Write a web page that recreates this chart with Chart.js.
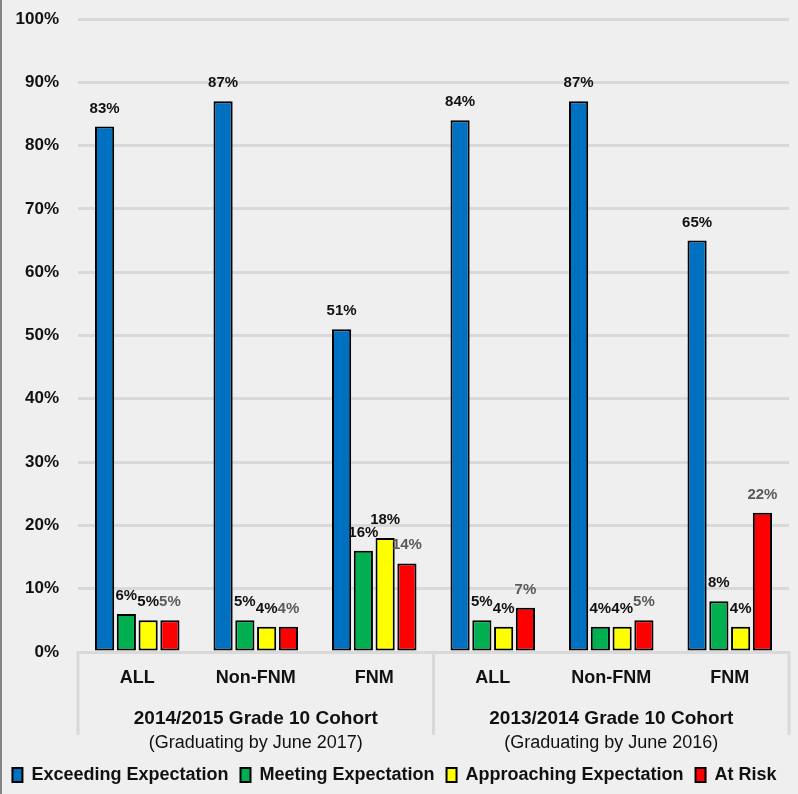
<!DOCTYPE html>
<html>
<head>
<meta charset="utf-8">
<script src="https://cdn.jsdelivr.net/npm/chart.js@4/dist/chart.umd.min.js"></script>
<style>
  html, body { margin: 0; padding: 0; background: #efefef; }
  #wrap { width: 798px; height: 794px; }
</style>
</head>
<body>
<div id="wrap"><canvas id="c" width="798" height="794"></canvas></div>
<script>
// Sub-groups within each cohort
const categories = ['ALL', 'Non-FNM', 'FNM', 'ALL', 'Non-FNM', 'FNM'];

// Cohort headings shown under the sub-group labels (3 sub-groups each)
const cohortTitles = ['2014/2015 Grade 10 Cohort', '2013/2014 Grade 10 Cohort'];
const cohortNotes = ['(Graduating by June 2017)', '(Graduating by June 2016)'];

// Percent of students in each outcome band
const exceeding   = [83, 87, 51, 84, 87, 65];
const meeting     = [6, 5, 16, 5, 4, 8];
const approaching = [5, 4, 18, 4, 4, 4];
const atRisk      = [5, 4, 14, 7, 5, 22];

const seriesNames = ['Exceeding Expectation', 'Meeting Expectation', 'Approaching Expectation', 'At Risk'];

// Percentage axis
const yMin = 0, yMax = 100, yStep = 10;

const FONT = "'Liberation Sans', Arial, sans-serif";

const bgPlugin = {
  id: 'pageBackground',
  beforeDraw(chart) {
    const ctx = chart.ctx;
    ctx.save();
    ctx.fillStyle = '#efefef';
    ctx.fillRect(0, 0, chart.width, chart.height);
    ctx.fillStyle = '#858585';
    ctx.fillRect(0, 0, 2, chart.height);
    ctx.restore();
  }
};

// Percent labels above every bar
const valueLabels = {
  id: 'valueLabels',
  afterDatasetsDraw(chart) {
    const ctx = chart.ctx;
    ctx.save();
    ctx.font = 'bold 15px ' + FONT;
    ctx.textAlign = 'center';
    ctx.textBaseline = 'alphabetic';
    chart.data.datasets.forEach((ds, i) => {
      const meta = chart.getDatasetMeta(i);
      ctx.fillStyle = i === 3 ? '#5a5a5a' : '#111';
      meta.data.forEach((bar, j) => {
        ctx.fillText(ds.data[j] + '%', bar.x, bar.y - 14);
      });
    });
    ctx.restore();
  }
};

// Second level of the category axis: cohort dividers and headings
const cohortAxis = {
  id: 'cohortAxis',
  afterDraw(chart) {
    const ctx = chart.ctx;
    const xs = chart.scales.x;
    const area = chart.chartArea;
    const mid = (xs.getPixelForValue(2) + xs.getPixelForValue(3)) / 2;
    const edges = [area.left, mid, area.right];
    ctx.save();
    ctx.strokeStyle = '#d9d9d9';
    ctx.lineWidth = 3;
    edges.forEach(x => {
      ctx.beginPath();
      ctx.moveTo(x, area.bottom);
      ctx.lineTo(x, 735);
      ctx.stroke();
    });
    ctx.textAlign = 'center';
    ctx.textBaseline = 'middle';
    ctx.fillStyle = '#111';
    for (let g = 0; g < cohortTitles.length; g++) {
      const cx = (edges[g] + edges[g + 1]) / 2;
      ctx.font = 'bold 19px ' + FONT;
      ctx.fillText(cohortTitles[g], cx, 719);
      ctx.font = '18px ' + FONT;
      ctx.fillText(cohortNotes[g], cx, 743);
    }
    ctx.restore();
  }
};

const barStyle = { borderColor: '#000', borderWidth: 2, borderSkipped: false, categoryPercentage: 0.735, barPercentage: 0.88 };

new Chart(document.getElementById('c'), {
  type: 'bar',
  data: {
    labels: categories,
    datasets: [
      Object.assign({ label: seriesNames[0], data: exceeding, backgroundColor: '#0070c0' }, barStyle),
      Object.assign({ label: seriesNames[1], data: meeting, backgroundColor: '#00b050' }, barStyle),
      Object.assign({ label: seriesNames[2], data: approaching, backgroundColor: '#ffff00' }, barStyle),
      Object.assign({ label: seriesNames[3], data: atRisk, backgroundColor: '#ff0000' }, barStyle)
    ]
  },
  options: {
    responsive: false,
    animation: false,
    devicePixelRatio: 1,
    layout: { padding: { top: 19, left: 0, right: 9, bottom: 0 } },
    scales: {
      x: {
        grid: { display: false, drawTicks: false },
        border: { display: true, color: '#d9d9d9', width: 3 },
        ticks: { padding: 15, color: '#111', maxRotation: 0, font: { family: FONT, size: 18, weight: 'bold' } },
        afterFit(s) { s.height = 102; }
      },
      y: {
        min: yMin,
        max: yMax,
        grid: { color: '#d9d9d9', lineWidth: 3, drawTicks: false },
        border: { display: false },
        ticks: {
          stepSize: yStep,
          padding: 19,
          color: '#111',
          font: { family: FONT, size: 17, weight: 'bold' },
          callback: v => v + '%'
        },
        afterFit(s) {
          s.width = 78;
          s.paddingTop = 0;
          s.paddingBottom = 0;
        }
      }
    },
    plugins: {
      legend: {
        position: 'bottom',
        labels: {
          boxWidth: 10,
          boxHeight: 14,
          padding: 12,
          color: '#111',
          font: { family: FONT, size: 18, weight: 'bold' }
        }
      },
      tooltip: { enabled: false }
    }
  },
  plugins: [bgPlugin, valueLabels, cohortAxis]
});
</script>
</body>
</html>
